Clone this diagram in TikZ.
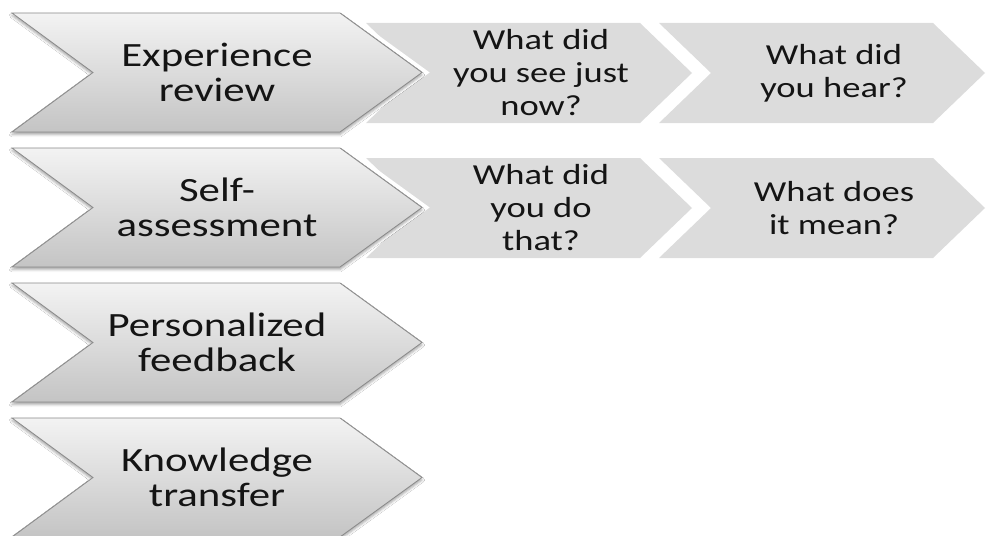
\documentclass[tikz,border=0pt]{standalone}
\usepackage{fontspec}
\setmainfont{Carlito}[FakeStretch=1.26]
\usetikzlibrary{shadows.blur}

\definecolor{sidefill}{RGB}{220,220,220}
\definecolor{maintop}{RGB}{243,243,243}
\definecolor{mainbot}{RGB}{196,196,196}
\definecolor{mainedge}{RGB}{138,138,138}
\definecolor{txt}{RGB}{20,20,20}

\tikzset{
  halo/.style={draw=white, line width=9pt, line join=miter},
  mainchev/.style={top color=maintop, bottom color=mainbot, draw=mainedge,
    line width=0.8pt, line join=miter,
    blur shadow={shadow xshift=0pt, shadow yshift=-2.5pt,
      shadow blur radius=2.5pt, shadow opacity=35}},
  sidechev/.style={fill=sidefill},
  maintext/.style={align=center, text=txt, font=\fontsize{34}{35}\selectfont},
  sidetext/.style={align=center, text=txt, font=\fontsize{29}{33}\selectfont}
}

% main chevron: top edge at y = #1
\newcommand\mainchevron[1]{%
  \path[halo] (12,#1) -- ++(328,0) -- ++(82,59.5) -- ++(-82,59.5)
    -- ++(-328,0) -- ++(81,-59.5) -- cycle;
  \path[mainchev] (12,#1) -- ++(328,0) -- ++(82,59.5) -- ++(-82,59.5)
    -- ++(-328,0) -- ++(81,-59.5) -- cycle;
}
% flat chevron: left edge at x = #1, top edge at y = #2
\newcommand\sidechevron[2]{%
  \path[sidechev] (#1,#2) -- ++(274,0) -- ++(52,50) -- ++(-52,50)
    -- ++(-274,0) -- ++(52,-50) -- cycle;
}

\begin{document}
\begin{tikzpicture}[x=1pt, y=-1pt]
  \useasboundingbox (0,0) rectangle (987,535);

  % question chevrons of the first two rows
  \sidechevron{366}{23}
  \sidechevron{659}{23}
  \sidechevron{366}{158}
  \sidechevron{659}{158}

  % step chevrons
  \mainchevron{13}
  \mainchevron{148}
  \mainchevron{283}
  \mainchevron{418}

  % step labels
  \node[maintext] (exp)  at (217,72.5)  {Experience\\review};
  \node[maintext] (self) at (217,207.5) {Self-\\assessment};
  \node[maintext] (pers) at (217,342.5) {Personalized\\feedback};
  \node[maintext] (know) at (217,477.5) {Knowledge\\transfer};

  % question labels
  \node[sidetext] (see)  at (541,73)  {What did\\you see just\\now?};
  \node[sidetext] (hear) at (834,73)  {What did\\you hear?};
  \node[sidetext] (do)   at (541,208) {What did\\you do\\that?};
  \node[sidetext] (mean) at (834,208) {What does\\it mean?};
\end{tikzpicture}
\end{document}
